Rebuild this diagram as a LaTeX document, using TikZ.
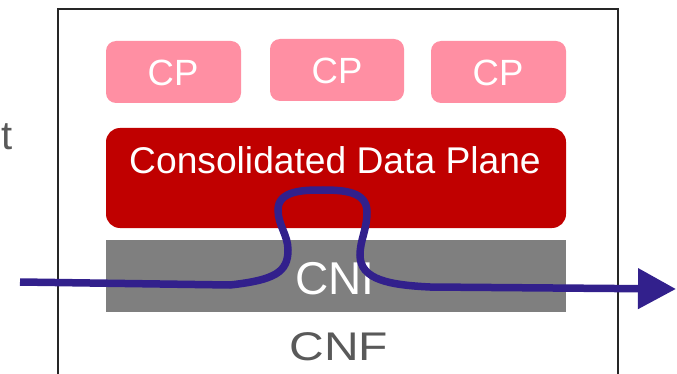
\documentclass[tikz,border=0pt]{standalone}
\usepackage{fontspec}
\setmainfont{Liberation Sans}
\usetikzlibrary{arrows.meta}
\definecolor{cppink}{RGB}{255,143,163}
\definecolor{planered}{RGB}{192,0,0}
\definecolor{cnigray}{RGB}{127,127,127}
\definecolor{labelgray}{RGB}{89,89,89}
\definecolor{flowblue}{RGB}{50,32,140}
\tikzset{
  cpbox/.style={fill=cppink, rounded corners=10pt},
  planebox/.style={fill=planered, rounded corners=14pt},
  cnibox/.style={fill=cnigray},
  whitelabel/.style={text=white, inner sep=0pt, anchor=base},
  graylabel/.style={text=labelgray, inner sep=0pt, anchor=base},
  flow/.style={draw=flowblue, line width=7.5pt,
    -{Triangle[length=38pt,width=39pt]}}
}
\begin{document}
\begin{tikzpicture}[x=1pt,y=-1pt]
\useasboundingbox (0,0) rectangle (677,374);
% enclosing CNF frame (open at the bottom edge)
\draw[line width=2.2pt, draw=black!85] (58,380) -- (58,9) -- (618,9) -- (618,380);
% control planes
\fill[cpbox] (106,41) rectangle (241,103);
\fill[cpbox] (270,39) rectangle (404,101);
\fill[cpbox] (431,41) rectangle (566,103);
\node[whitelabel, font=\fontsize{36.5}{40}\selectfont] (cp1) at (173,86) {CP};
\node[whitelabel, font=\fontsize{36.5}{40}\selectfont] (cp2) at (337,84) {CP};
\node[whitelabel, font=\fontsize{36.5}{40}\selectfont] (cp3) at (498,86) {CP};
% data plane and network interface
\fill[planebox] (106,128) rectangle (566,228);
\node[whitelabel, font=\fontsize{37.2}{40}\selectfont] (cdp) at (335,174) {Consolidated Data Plane};
\fill[cnibox] (106,240) rectangle (566,312);
\node[whitelabel, font=\fontsize{46}{50}\selectfont] (cni) at (335,294.5) {CNI};
\node[graylabel, xscale=1.2, font=\fontsize{40}{44}\selectfont] (cnf) at (339,360) {CNF};
\node[graylabel, anchor=base east, font=\fontsize{40}{44}\selectfont] (edge) at (13,150) {t};
% traffic path through the data plane
\coordinate (in) at (20,282);
\coordinate (out) at (676,289);
\draw[flow] (in) -- (230,285)
  .. controls (275,280) and (288,272) .. (288,250)
  .. controls (288,235) and (278,225) .. (278,210)
  .. controls (278,190) and (305,190) .. (323,190)
  .. controls (345,190) and (367,192) .. (367,212)
  .. controls (367,230) and (360,240) .. (360,255)
  .. controls (360,280) and (390,285) .. (430,287)
  -- (out);
\end{tikzpicture}
\end{document}
